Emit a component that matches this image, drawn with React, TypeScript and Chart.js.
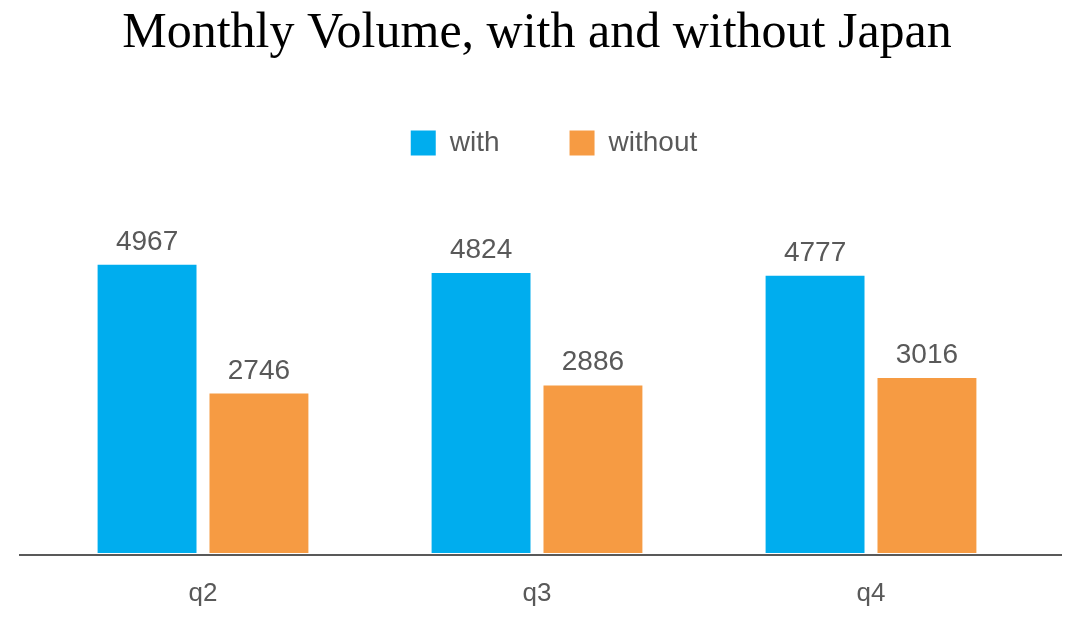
import React, { useEffect, useRef } from "react";
import { Chart, registerables } from "chart.js";

Chart.register(...registerables);

const categories = ["q2", "q3", "q4"];
const withJapan = [4967, 4824, 4777];
const withoutJapan = [2746, 2886, 3016];
const seriesNames = ["with", "without"];

const BLUE = "#00ADEE";
const ORANGE = "#F69B43";
const GRAY = "#595959";

const valueLabels = {
  id: "valueLabels",
  afterDatasetsDraw(chart: any) {
    const ctx = chart.ctx;
    ctx.save();
    ctx.font = "28px 'Liberation Sans', Arial, sans-serif";
    ctx.fillStyle = GRAY;
    ctx.textAlign = "center";
    ctx.textBaseline = "alphabetic";
    chart.data.datasets.forEach((ds: any, i: number) => {
      const meta = chart.getDatasetMeta(i);
      meta.data.forEach((el: any, j: number) => {
        ctx.fillText(String(ds.data[j]), el.x, el.y - 15);
      });
    });
    ctx.restore();
  },
};

const baseLine = {
  id: "baseLine",
  afterDatasetsDraw(chart: any) {
    const ctx = chart.ctx;
    const y = chart.scales.y.getPixelForValue(0) + 2;
    ctx.save();
    ctx.strokeStyle = GRAY;
    ctx.lineWidth = 2;
    ctx.beginPath();
    ctx.moveTo(19, y);
    ctx.lineTo(1062, y);
    ctx.stroke();
    ctx.restore();
  },
};

// The reference legend sits a little right of centre.
const legendShift = {
  id: "legendShift",
  afterLayout(chart: any) {
    if (chart.legend) {
      chart.legend.left += 17;
      chart.legend.right += 17;
    }
  },
};

export default function App() {
  const ref = useRef<HTMLCanvasElement>(null);
  useEffect(() => {
    document.body.style.margin = "0";
    const chart = new Chart(ref.current!, {
      type: "bar",
      data: {
        labels: categories,
        datasets: [
          { label: seriesNames[0], data: withJapan, backgroundColor: BLUE },
          { label: seriesNames[1], data: withoutJapan, backgroundColor: ORANGE },
        ],
      },
      options: {
        animation: false,
        responsive: false,
        maintainAspectRatio: false,
        layout: { padding: { left: 36, right: 44, top: 0, bottom: 0 } },
        datasets: { bar: { barPercentage: 0.884, categoryPercentage: 0.67 } } as any,
        plugins: {
          title: {
            display: true,
            text: "Monthly Volume, with and without Japan",
            color: "#000",
            font: { family: "'Liberation Serif', serif", size: 50, weight: "normal", lineHeight: 1.02 },
            padding: { top: 8, bottom: 0 },
          },
          legend: {
            display: true,
            labels: {
              color: GRAY,
              boxWidth: 25,
              boxHeight: 25,
              padding: 70,
              font: { family: "'Liberation Sans', Arial, sans-serif", size: 28 },
            },
          },
          tooltip: { enabled: false },
        },
        scales: {
          x: {
            grid: { display: false, drawTicks: false },
            border: { display: false },
            ticks: {
              color: GRAY,
              padding: 25,
              font: { family: "'Liberation Sans', Arial, sans-serif", size: 26 },
            },
            afterFit(scale: any) {
              scale.height = 68;
            },
          },
          y: {
            display: false,
            min: 0,
            max: 6650,
          },
        },
      },
      plugins: [valueLabels, baseLine, legendShift],
    });
    return () => chart.destroy();
  }, []);
  return <canvas ref={ref} width={1082} height={621} style={{ display: "block" }} />;
}
